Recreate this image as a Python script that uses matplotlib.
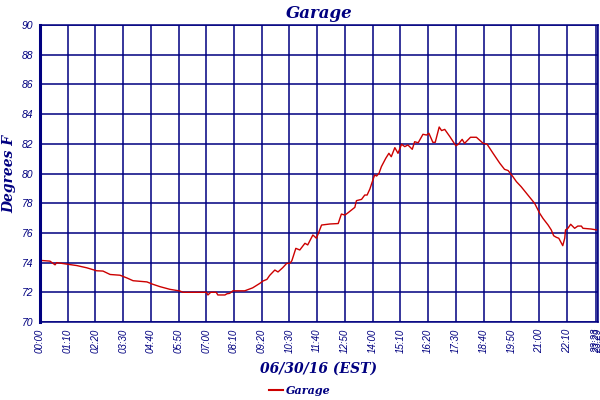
import numpy as np
import matplotlib.pyplot as plt
from matplotlib.lines import Line2D

# --- data: minutes after midnight, temperature (F) ---
minutes = [0, 25, 38, 42, 67, 93, 118, 143, 159, 177, 202, 220, 235, 270, 285,
           303, 328, 353, 361, 420, 424, 431, 445, 449, 467, 472, 479, 487, 517,
           537, 555, 563, 573, 580, 593, 601, 613, 623, 631, 636, 646, 656, 669,
           676, 689, 698, 711, 732, 753, 761, 770, 778, 795, 799, 812, 820, 826,
           833, 840, 845, 850, 856, 862, 873, 881, 887, 896, 904, 913, 921, 929,
           940, 946, 955, 967, 976, 982, 992, 998, 1008, 1014, 1022, 1035, 1050,
           1056, 1066, 1072, 1087, 1102, 1119, 1129, 1144, 1161, 1173, 1182, 1194,
           1203, 1215, 1232, 1249, 1262, 1270, 1283, 1291, 1297, 1304, 1310, 1320,
           1325, 1327, 1333, 1340, 1350, 1358, 1367, 1371, 1392, 1406]
temps = [74.15, 74.1, 73.85, 74.0, 73.9, 73.8, 73.65, 73.45, 73.43, 73.2, 73.15,
         72.96, 72.78, 72.7, 72.54, 72.38, 72.2, 72.09, 72.0, 72.0, 71.82, 72.0,
         72.0, 71.82, 71.82, 71.9, 71.93, 72.1, 72.1, 72.3, 72.6, 72.76, 72.87,
         73.14, 73.5, 73.37, 73.66, 73.95, 73.95, 74.13, 74.96, 74.85, 75.3,
         75.19, 75.86, 75.64, 76.53, 76.6, 76.63, 77.27, 77.2, 77.36, 77.72,
         78.17, 78.26, 78.55, 78.55, 78.96, 79.52, 79.9, 79.83, 80.01, 80.46,
         81.02, 81.36, 81.13, 81.74, 81.36, 81.97, 81.81, 81.92, 81.63, 82.14,
         82.07, 82.64, 82.59, 82.71, 82.1, 82.1, 83.13, 82.89, 82.97, 82.48,
         81.87, 81.96, 82.3, 82.03, 82.44, 82.44, 82.03, 81.97, 81.36, 80.69,
         80.28, 80.2, 79.79, 79.45, 79.11, 78.55, 77.99, 77.31, 76.98, 76.53,
         76.2, 75.81, 75.7, 75.64, 75.14, 75.64, 76.2, 76.31, 76.58, 76.31,
         76.46, 76.46, 76.31, 76.26, 76.2]

tick_minutes = list(range(0, 1331, 70)) + [1403, 1409]
tick_labels = [f"{m // 60:02d}:{m % 60:02d}" for m in tick_minutes]
y_ticks = list(range(70, 91, 2))

navy = "#000080"
red = "#CC0000"

fig = plt.figure(figsize=(6, 4), dpi=100)
ax = fig.add_axes([40 / 600, 1 - 322 / 400, 558 / 600, 297 / 400])

ax.plot(minutes, temps, color=red, lw=1.0)

ax.set_xlim(0, 1409)
ax.set_ylim(70, 90)
ax.set_xticks(tick_minutes)
ax.set_xticklabels(tick_labels, rotation=90, fontsize=7, style="italic",
                   color=navy, family="Liberation Sans")
ax.set_yticks(y_ticks)
ax.set_yticklabels([str(v) for v in y_ticks], fontsize=7.5, style="italic",
                   color=navy, family="Liberation Sans")
ax.tick_params(length=0, pad=5)
ax.grid(True, color=navy, lw=1.1)
ax.set_axisbelow(True)
for sp in ax.spines.values():
    sp.set_color(navy)
    sp.set_linewidth(1.1)
ax.spines["left"].set_linewidth(2.2)

ax.set_title("Garage", fontsize=12, style="italic", weight="bold",
             color=navy, family="DejaVu Serif", pad=5)
ax.set_ylabel("Degrees F", fontsize=10, style="italic", weight="bold",
              color=navy, family="DejaVu Serif", labelpad=4)
ax.set_xlabel("06/30/16 (EST)", fontsize=10, style="italic", weight="bold",
              color=navy, family="DejaVu Serif", labelpad=6)

handle = Line2D([], [], color=red, lw=1.5)
leg = fig.legend([handle], ["Garage"], loc="center", bbox_to_anchor=(0.5, 1 - 390 / 400),
                 frameon=False, handlelength=1.2, handletextpad=0.3,
                 prop={"family": "DejaVu Serif", "style": "italic",
                       "weight": "bold", "size": 8})
for t in leg.get_texts():
    t.set_color(navy)

fig.savefig("out.png", dpi=100)
